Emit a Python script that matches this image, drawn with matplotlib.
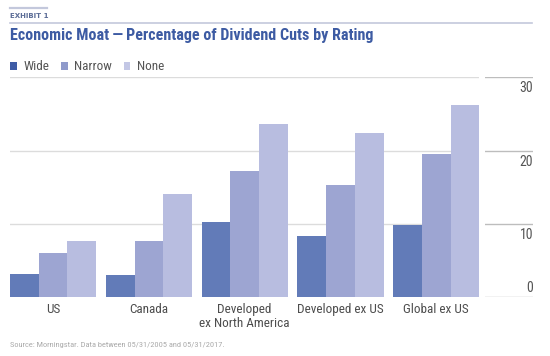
import numpy as np
import matplotlib
matplotlib.use("Agg")
import matplotlib.pyplot as plt
from matplotlib import font_manager
from matplotlib.patches import Patch
from matplotlib.lines import Line2D

# ---- data -------------------------------------------------------------
regions = ["US", "Canada", "Developed\nex North America", "Developed ex US", "Global ex US"]
series = ["Wide", "Narrow", "None"]
wide = [3.2, 3.1, 10.3, 8.4, 9.9]
narrow = [6.1, 7.7, 17.2, 15.3, 19.5]
none = [7.7, 14.1, 23.7, 22.4, 26.2]
yticks = [0, 10, 20, 30]

bar_colors = ["#627bb8", "#9da5d2", "#b8bde0"]
legend_colors = ["#3f5ca6", "#8f9acb", "#c3c7e5"]


def _pick_family(cands):
    names = {f.name for f in font_manager.fontManager.ttflist}
    for c in cands:
        if c in names:
            return c
    return "DejaVu Sans"


FAM = _pick_family(["Liberation Sans Narrow", "Roboto Condensed", "Open Sans Condensed", "Roboto"])
plt.rcParams["font.family"] = [FAM, "DejaVu Sans"]

W, H = 550, 356
fig = plt.figure(figsize=(W / 100, H / 100), dpi=100)


def fx(px):
    return px / W


def fy(py):
    return 1 - py / H


# main axes: x 10..479, y 77..297 (pixels)
ax = fig.add_axes([fx(10), fy(297.3), fx(479.3) - fx(10), fy(77.3) - fy(297.3)])
x = np.arange(len(regions))
bw = 0.3
for i, (vals, col) in enumerate(zip([wide, narrow, none], bar_colors)):
    ax.bar(x + (i - 1) * bw, vals, width=bw, color=col, zorder=2, linewidth=0)
ax.set_xlim(-0.45, len(regions) - 0.55)
ax.set_ylim(0, 30)
ax.set_yticks(yticks[1:])
ax.yaxis.grid(True, color="#dcdcdc", lw=1.0, zorder=0)
ax.set_axisbelow(True)
for sp in ax.spines.values():
    sp.set_visible(False)
ax.tick_params(axis="y", length=0, labelleft=False)
ax.tick_params(axis="x", length=0, pad=4, labelsize=9.5, labelcolor="#4d4d4d")
ax.set_xticks(x)
ax.set_xticklabels(regions, linespacing=1.1, va="top")

# right scale strip: x 485..533
ax2 = fig.add_axes([fx(485), fy(297.3), fx(533) - fx(485), fy(77.3) - fy(297.3)])
ax2.set_ylim(0, 30)
ax2.set_xlim(0, 1)
for sp in ax2.spines.values():
    sp.set_visible(False)
ax2.set_xticks([])
ax2.set_yticks([])
for v in yticks:
    ax2.axhline(v, color="#bdbdbd", lw=1.0)
    if v == 0:
        off, va = 2, "bottom"
    else:
        off, va = -3, "top"
    ax2.annotate(str(v), xy=(1, v), xycoords=ax2.get_yaxis_transform(),
                 xytext=(0, off), textcoords="offset points",
                 ha="right", va=va, fontsize=10, color="#555555")

# header
fig.add_artist(Line2D([fx(10), fx(47)], [fy(8.3), fy(8.3)], color="#c3c8dc", lw=1.6))
fig.text(fx(10), fy(15.5), "EXHIBIT 1", fontsize=5, fontweight="bold",
         color="#5b6c96", ha="left", va="center", family=["DejaVu Sans"])
fig.add_artist(Line2D([fx(10), fx(532)], [fy(22.7), fy(22.7)], color="#c3c8dc", lw=1.2))
fig.text(fx(10), fy(35.5), "Economic Moat\u2009\u2014\u2009Percentage of Dividend Cuts by Rating",
         fontsize=11.6, fontweight="bold", color="#3d5ba3", ha="left", va="center")

handles = [Patch(facecolor=c, edgecolor="none") for c in legend_colors]
fig.legend(handles, series, loc="center left", bbox_to_anchor=(fx(10), fy(67)),
           ncol=3, frameon=False, fontsize=9.5, labelcolor="#555555",
           handlelength=0.5, handleheight=0.5, handletextpad=0.5,
           columnspacing=0.9, borderaxespad=0, borderpad=0)

fig.text(fx(10), fy(345), "Source: Morningstar. Data between 05/31/2005 and 05/31/2017.",
         fontsize=6, color="#aaaaaa", ha="left", va="center")

fig.savefig("out.png", dpi=100)
